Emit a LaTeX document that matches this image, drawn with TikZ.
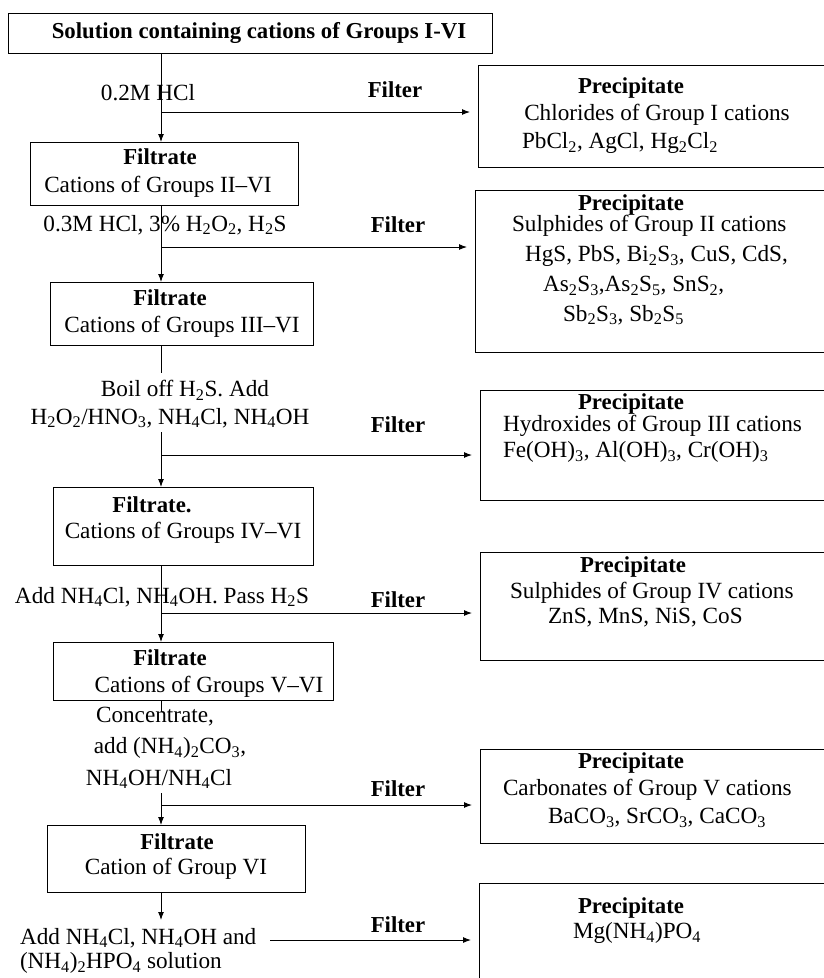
\documentclass[tikz,border=0pt]{standalone}
\usepackage{fontspec}
\setmainfont{Liberation Serif}
\usetikzlibrary{arrows.meta}
\newcommand\sbs[1]{\textsubscript{#1}}
\begin{document}
\begin{tikzpicture}[x=1pt,y=-1pt,
  every node/.style={inner sep=0pt, outer sep=0pt, font=\fontsize{23.2}{28}\selectfont},
  frame/.style={draw, line width=1pt, anchor=north west},
  lbl/.style={},
  hd/.style={font=\fontsize{22.8}{28}\selectfont\bfseries},
  lft/.style={anchor=west},
  conn/.style={line width=1pt},
  arr/.style={line width=1pt, -{Latex[length=8pt,width=6pt]}}]
\useasboundingbox[fill=white] (0,0) rectangle (823,978);

% main column boxes
\node[frame, minimum width=484pt, minimum height=40pt] (top) at (8,13) {};
\node[hd] (toptxt) at (259,33) {Solution containing cations of Groups I-VI};

\node[frame, minimum width=268pt, minimum height=63pt] (f1) at (30,142) {};
\node[hd] (f1a) at (160,157) {Filtrate};
\node[lbl] (f1b) at (158,187) {Cations of Groups II--VI};

\node[frame, minimum width=263pt, minimum height=63pt] (f2) at (50,282) {};
\node[hd] (f2a) at (170,298) {Filtrate};
\node[lbl] (f2b) at (182,327) {Cations of Groups III--VI};

\node[frame, minimum width=260pt, minimum height=78pt] (f3) at (53,487) {};
\node[hd] (f3a) at (152,505) {Filtrate.};
\node[lbl] (f3b) at (183,533) {Cations of Groups IV--VI};

\node[frame, minimum width=280pt, minimum height=58pt] (f4) at (53,642) {};
\node[hd] (f4a) at (170,658) {Filtrate};
\node[lbl] (f4b) at (209,687) {Cations of Groups V--VI};

\node[frame, minimum width=258pt, minimum height=67pt] (f5) at (47,825) {};
\node[hd] (f5a) at (177,842) {Filtrate};
\node[lbl] (f5b) at (176,869) {Cation of Group VI};

% reagent labels
\node[lbl] (r1) at (148,93) {0.2M HCl};
\node[lbl] (r2) at (165,225) {0.3M HCl, 3\% H\sbs{2}O\sbs{2}, H\sbs{2}S};
\node[lbl] (r3a) at (185,390) {Boil off H\sbs{2}S. Add};
\node[lbl] (r3b) at (170,418) {H\sbs{2}O\sbs{2}/HNO\sbs{3}, NH\sbs{4}Cl, NH\sbs{4}OH};
\node[lbl, lft] (r4) at (15,597) {Add NH\sbs{4}Cl, NH\sbs{4}OH. Pass H\sbs{2}S};
\node[lbl] (r5a) at (155,717) {Concentrate,};
\node[lbl] (r5b) at (170,748) {add (NH\sbs{4})\sbs{2}CO\sbs{3},};
\node[lbl] (r5c) at (159,779) {NH\sbs{4}OH/NH\sbs{4}Cl};
\node[lbl, lft] (r6a) at (20,938) {Add NH\sbs{4}Cl, NH\sbs{4}OH and};
\node[lbl, lft] (r6b) at (20,963) {(NH\sbs{4})\sbs{2}HPO\sbs{4} solution};

% filter labels
\node[hd] (fl1) at (395,90) {Filter};
\node[hd] (fl2) at (398,225) {Filter};
\node[hd] (fl3) at (398,425) {Filter};
\node[hd] (fl4) at (398,600) {Filter};
\node[hd] (fl5) at (398,789) {Filter};
\node[hd] (fl6) at (398,925) {Filter};

% precipitate boxes
\node[frame, minimum width=352pt, minimum height=102pt] (p1) at (478,65) {};
\node[hd] (p1a) at (631,88) {Precipitate};
\node[lbl] (p1b) at (657,115) {Chlorides of Group I cations};
\node[lbl, lft] (p1c) at (522,143) {PbCl\sbs{2}, AgCl, Hg\sbs{2}Cl\sbs{2}};

\node[frame, minimum width=355pt, minimum height=162pt] (p2) at (475,190) {};
\node[hd] (p2a) at (631,205) {Precipitate};
\node[lbl, lft] (p2b) at (512,226) {Sulphides of Group II cations};
\node[lbl, lft] (p2c) at (525,256) {HgS, PbS, Bi\sbs{2}S\sbs{3}, CuS, CdS,};
\node[lbl, lft] (p2d) at (543,286) {As\sbs{2}S\sbs{3},As\sbs{2}S\sbs{5}, SnS\sbs{2},};
\node[lbl, lft] (p2e) at (563,315) {Sb\sbs{2}S\sbs{3}, Sb\sbs{2}S\sbs{5}};

\node[frame, minimum width=350pt, minimum height=110pt] (p3) at (480,390) {};
\node[hd] (p3a) at (631,404) {Precipitate};
\node[lbl, lft] (p3b) at (503,426) {Hydroxides of Group III cations};
\node[lbl, lft] (p3c) at (503,452) {Fe(OH)\sbs{3}, Al(OH)\sbs{3}, Cr(OH)\sbs{3}};

\node[frame, minimum width=350pt, minimum height=108pt] (p4) at (480,552) {};
\node[hd] (p4a) at (633,567) {Precipitate};
\node[lbl, lft] (p4b) at (510,593) {Sulphides of Group IV cations};
\node[lbl, lft] (p4c) at (548,618) {ZnS, MnS, NiS, CoS};

\node[frame, minimum width=350pt, minimum height=94pt] (p5) at (480,749) {};
\node[hd] (p5a) at (631,763) {Precipitate};
\node[lbl, lft] (p5b) at (503,790) {Carbonates of Group V cations};
\node[lbl, lft] (p5c) at (548,818) {BaCO\sbs{3}, SrCO\sbs{3}, CaCO\sbs{3}};

\node[frame, minimum width=351pt, minimum height=120pt] (p6) at (479,883) {};
\node[hd] (p6a) at (631,908) {Precipitate};
\node[lbl, lft] (p6b) at (573,933) {Mg(NH\sbs{4})PO\sbs{4}};

% junction coordinates
\coordinate (j1) at (161,112);
\coordinate (j2) at (161,247);
\coordinate (j3) at (161,455);
\coordinate (j4) at (161,613);
\coordinate (j5) at (161,805);
\coordinate (c3a) at (161,373);
\coordinate (c3b) at (161,432);
\coordinate (c5a) at (161,712);
\coordinate (c5b) at (161,793);
\coordinate (c6) at (161,920);
\coordinate (c6a) at (270,940);

% connectors
\draw[arr] (top.south -| j1) -- (j1 |- f1.north);
\draw[arr, shorten >=8pt] (j1) -- (j1 -| p1.west);

\draw[arr] (f1.south -| j2) -- (j2 |- f2.north);
\draw[arr, shorten >=8pt] (j2) -- (j2 -| p2.west);

\draw[conn] (f2.south -| c3a) -- (c3a);
\draw[arr] (c3b) -- (j3 |- f3.north);
\draw[arr, shorten >=8pt] (j3) -- (j3 -| p3.west);

\draw[arr] (f3.south -| j4) -- (j4 |- f4.north);
\draw[arr, shorten >=8pt] (j4) -- (j4 -| p4.west);

\draw[conn] (f4.south -| c5a) -- (c5a);
\draw[arr] (c5b) -- (j5 |- f5.north);
\draw[arr, shorten >=8pt] (j5) -- (j5 -| p5.west);

\draw[arr] (f5.south -| c6) -- (c6);
\draw[arr, shorten >=8pt] (c6a) -- (c6a -| p6.west);
\end{tikzpicture}
\end{document}
